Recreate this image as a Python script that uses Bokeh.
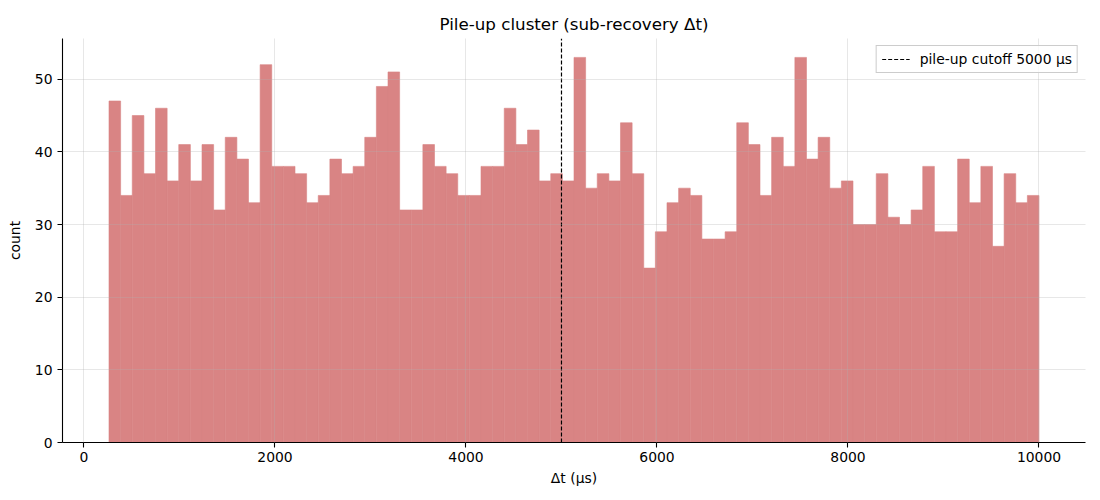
import numpy as np
from bokeh.plotting import figure
from bokeh.models import Legend, LegendItem, Range1d, FixedTicker
from bokeh.embed import file_html
from bokeh.resources import INLINE

counts = [47, 34, 45, 37, 46, 36, 41, 36, 41, 32,
          42, 39, 33, 52, 38, 38, 37, 33, 34, 39,
          37, 38, 42, 49, 51, 32, 32, 41, 38, 37,
          34, 34, 38, 38, 46, 41, 43, 36, 37, 36,
          53, 35, 37, 36, 44, 37, 24, 29, 33, 35,
          34, 28, 28, 29, 44, 41, 34, 42, 38, 53,
          39, 42, 35, 36, 30, 30, 37, 31, 30, 32,
          38, 29, 29, 39, 33, 38, 27, 37, 33, 34]
bin_start = 262
bin_end = 10000
cutoff = 5000
x_ticks = [0, 2000, 4000, 6000, 8000, 10000]
y_ticks = [0, 10, 20, 30, 40, 50]
y_max = 55.6

edges = np.linspace(bin_start, bin_end, len(counts) + 1)

FONT = "DejaVu Sans"
BAR = "#d98484"
FS = "13.9px"

p = figure(width=1100, height=500, output_backend="svg", toolbar_location=None,
           x_range=Range1d(-225, 10487), y_range=Range1d(0, y_max),
           min_border_left=62, min_border_right=15, min_border_top=38, min_border_bottom=58,
           title="Pile-up cluster (sub-recovery Δt)")
p.title.align = "center"
p.title.text_font = FONT
p.title.text_font_size = "16.7px"
p.title.text_font_style = "normal"
p.title.text_color = "black"

p.outline_line_color = None
p.background_fill_color = "white"

p.quad(left=edges[:-1], right=edges[1:], bottom=0, top=counts,
       fill_color=BAR, line_color=BAR, line_width=0.6)

cut_line = p.line(x=[cutoff, cutoff], y=[0, y_max], line_color="black",
                  line_width=1.2, line_dash="4 2")

legend = Legend(items=[LegendItem(label=f"pile-up cutoff {cutoff} μs", renderers=[cut_line])],
                location="top_right")
legend.label_text_font = FONT
legend.label_text_font_size = FS
legend.label_text_color = "black"
legend.border_line_color = "#cccccc"
legend.border_line_alpha = 1.0
legend.background_fill_alpha = 0.8
legend.glyph_width = 28
legend.glyph_height = 14
legend.padding = 5
legend.margin = 7
legend.spacing = 0
legend.label_standoff = 10
p.add_layout(legend)

for ax in (p.xaxis, p.yaxis):
    ax.axis_line_color = "black"
    ax.axis_line_width = 1.1
    ax.major_tick_line_color = "black"
    ax.major_tick_line_width = 1.1
    ax.major_tick_out = 5
    ax.major_tick_in = 0
    ax.minor_tick_line_color = None
    ax.major_label_text_font = FONT
    ax.major_label_text_font_size = FS
    ax.major_label_text_color = "black"
    ax.axis_label_text_font = FONT
    ax.axis_label_text_font_size = FS
    ax.axis_label_text_font_style = "normal"
    ax.axis_label_text_color = "black"

p.xaxis.ticker = FixedTicker(ticks=x_ticks)
p.yaxis.ticker = FixedTicker(ticks=y_ticks)
p.xaxis.axis_label = "Δt (μs)"
p.yaxis.axis_label = "count"
p.xaxis.major_label_standoff = 4
p.yaxis.major_label_standoff = 5
p.xaxis.axis_label_standoff = 5
p.yaxis.axis_label_standoff = 9

p.xgrid.ticker = FixedTicker(ticks=x_ticks)
p.ygrid.ticker = FixedTicker(ticks=y_ticks)
for g in (p.xgrid, p.ygrid):
    g.grid_line_color = "#b0b0b0"
    g.grid_line_alpha = 0.3
    g.grid_line_width = 1
    g.level = "overlay"

open("out.html", "w").write(file_html(p, INLINE))
